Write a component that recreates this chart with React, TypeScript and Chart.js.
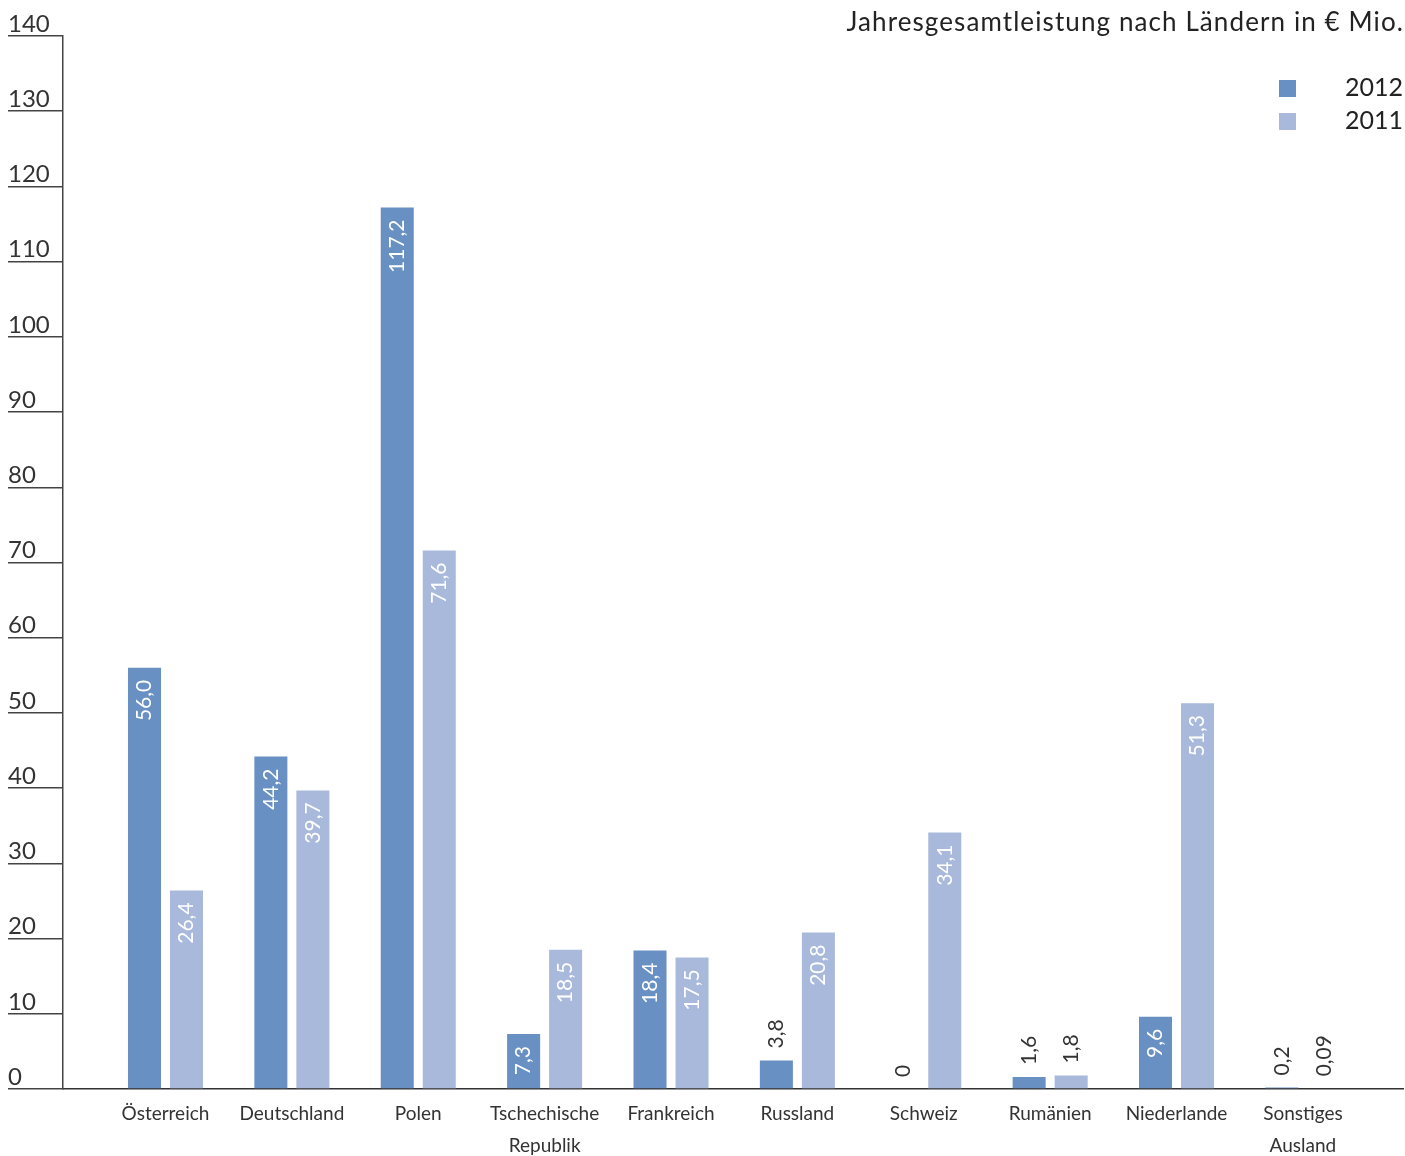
import React, { useEffect, useRef } from "react";
import Chart from "chart.js/auto";

const categories: (string | string[])[] = [
  "Österreich",
  "Deutschland",
  "Polen",
  ["Tschechische", "Republik"],
  "Frankreich",
  "Russland",
  "Schweiz",
  "Rumänien",
  "Niederlande",
  ["Sonstiges", "Ausland"],
];
const values2012 = [56.0, 44.2, 117.2, 7.3, 18.4, 3.8, 0, 1.6, 9.6, 0.2];
const values2011 = [26.4, 39.7, 71.6, 18.5, 17.5, 20.8, 34.1, 1.8, 51.3, 0.09];
const seriesLabels = ["2012", "2011"];
const seriesColors = ["#6890c3", "#a9b9dc"];
const titleText = "Jahresgesamtleistung nach Ländern in € Mio.";
const yMin = 0;
const yMax = 140;
const yStep = 10;

const FONT = "Lato, 'Noto Sans', sans-serif";
const DARK = "#333333";

function fmt(v: number): string {
  if (v === 0) return "0";
  const s = v < 0.1 ? v.toFixed(2) : v.toFixed(1);
  return s.replace(".", ",");
}

const valueLabelPlugin = {
  id: "valueLabels",
  afterDatasetsDraw(chart: any) {
    const ctx = chart.ctx;
    ctx.save();
    ctx.font = `21px ${FONT}`;
    ctx.textBaseline = "middle";
    chart.data.datasets.forEach((ds: any, di: number) => {
      const meta = chart.getDatasetMeta(di);
      meta.data.forEach((bar: any, i: number) => {
        const v = ds.data[i].y;
        const text = fmt(v);
        const w = ctx.measureText(text).width;
        const h = bar.base - bar.y;
        const pad = 12;
        ctx.save();
        ctx.translate(bar.x, bar.y);
        ctx.rotate(-Math.PI / 2);
        if (h >= w + pad * 2) {
          ctx.fillStyle = "#ffffff";
          ctx.textAlign = "right";
          ctx.fillText(text, -pad, 0);
        } else {
          ctx.fillStyle = DARK;
          ctx.textAlign = "left";
          ctx.fillText(text, pad, 0);
        }
        ctx.restore();
      });
    });
    ctx.restore();
  },
};

const titleLegendPlugin = {
  id: "titleLegend",
  afterDraw(chart: any) {
    const ctx = chart.ctx;
    const right = chart.chartArea.right;
    ctx.save();
    // title
    ctx.font = `26px ${FONT}`;
    ctx.textBaseline = "middle";
    ctx.textAlign = "right";
    ctx.fillStyle = "#222222";
    try {
      (ctx as any).letterSpacing = "1.1px";
    } catch (e) {}
    ctx.fillText(titleText, right + 1, 23);
    try {
      (ctx as any).letterSpacing = "0px";
    } catch (e) {}
    // legend
    ctx.font = `25px ${FONT}`;
    chart.data.datasets.forEach((ds: any, i: number) => {
      const top = 80 + i * 33;
      ctx.fillStyle = ds.backgroundColor;
      ctx.fillRect(1279, top, 17, 17);
      ctx.fillStyle = "#222222";
      ctx.fillText(ds.label, right, top + 8);
    });
    ctx.restore();
  },
};

export default function App() {
  const ref = useRef<HTMLCanvasElement | null>(null);
  useEffect(() => {
    document.body.style.margin = "0";
    if (!ref.current) return;
    const toPoints = (arr: number[]) => arr.map((y, x) => ({ x, y }));
    const chart = new Chart(ref.current, {
      type: "bar",
      data: {
        datasets: [
          {
            label: seriesLabels[0],
            data: toPoints(values2012),
            backgroundColor: seriesColors[0],
            categoryPercentage: 0.665,
            barPercentage: 0.786,
          },
          {
            label: seriesLabels[1],
            data: toPoints(values2011),
            backgroundColor: seriesColors[1],
            categoryPercentage: 0.665,
            barPercentage: 0.786,
          },
        ] as any,
      },
      options: {
        responsive: false,
        animation: false,
        devicePixelRatio: 1,
        layout: { padding: { left: 8, right: 2, top: 36, bottom: 0 } },
        plugins: {
          legend: { display: false },
          tooltip: { enabled: false },
          title: { display: false },
        },
        scales: {
          x: {
            type: "linear",
            offset: false,
            min: -0.811,
            max: 9.792,
            grid: { display: false, drawTicks: false, offset: false },
            border: { display: true, color: DARK, width: 1.5 },
            afterBuildTicks(scale: any) {
              scale.ticks = categories.map((_, i) => ({ value: i }));
            },
            afterFit(scale: any) {
              scale.height = 67;
            },
            ticks: {
              autoSkip: false,
              maxRotation: 0,
              minRotation: 0,
              padding: 9,
              color: DARK,
              font: { family: FONT, size: 19, lineHeight: 32 / 19 },
              callback: (value: any) => categories[Math.round(Number(value))] ?? "",
            },
          },
          y: {
            min: yMin,
            max: yMax,
            grid: {
              drawOnChartArea: false,
              drawTicks: true,
              tickLength: 55,
              color: "#444444",
              lineWidth: 1.5,
            },
            border: { display: true, color: "#444444", width: 1.5 },
            afterFit(scale: any) {
              scale.width = 55;
            },
            ticks: {
              stepSize: yStep,
              crossAlign: "far",
              labelOffset: -12,
              padding: 0,
              color: DARK,
              font: { family: FONT, size: 24 },
            },
          },
        },
      } as any,
      plugins: [valueLabelPlugin, titleLegendPlugin],
    });
    return () => chart.destroy();
  }, []);
  return <canvas ref={ref} width={1405} height={1156} style={{ display: "block" }} />;
}
